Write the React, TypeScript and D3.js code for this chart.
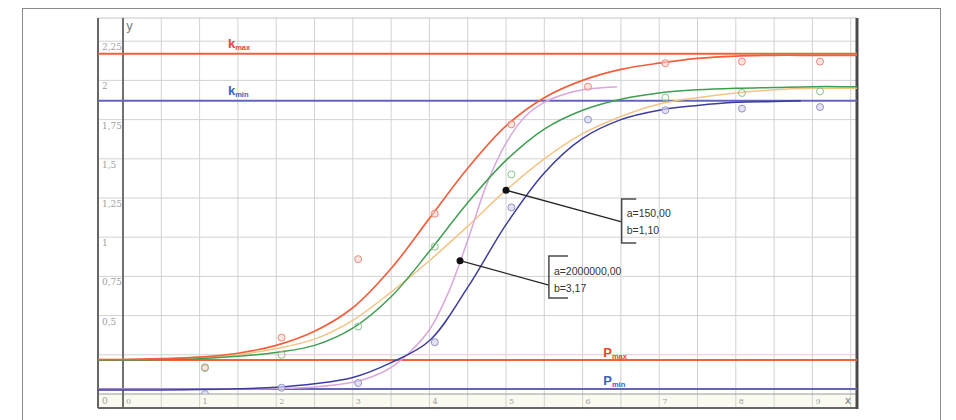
import React from 'react';
import * as d3 from 'd3';

// fitted curves
const curveX = [-0.35, 0, 0.5, 1, 1.5, 2, 2.5, 3, 3.5, 4, 4.5, 5, 5.5, 6, 6.5, 7, 7.5, 8, 8.5, 9, 9.5, 9.6];
const redCurve = [0.22, 0.22, 0.225, 0.235, 0.26, 0.31, 0.4, 0.55, 0.8, 1.12, 1.44, 1.71, 1.89, 2.0, 2.07, 2.11, 2.14, 2.155, 2.16, 2.16, 2.16, 2.16];
const greenCurve = [0.215, 0.215, 0.22, 0.225, 0.24, 0.265, 0.31, 0.42, 0.62, 0.91, 1.22, 1.49, 1.69, 1.81, 1.88, 1.92, 1.94, 1.95, 1.955, 1.96, 1.96, 1.96];
const tanCurve = [0.22, 0.22, 0.225, 0.235, 0.25, 0.29, 0.35, 0.47, 0.65, 0.85, 1.07, 1.3, 1.5, 1.66, 1.77, 1.85, 1.89, 1.92, 1.94, 1.95, 1.95, 1.95];

const pinkX = [-0.35, 0, 1, 2, 2.5, 3, 3.25, 3.5, 3.75, 4, 4.25, 4.5, 4.75, 5, 5.25, 5.5, 5.75, 6, 6.45];
const pinkCurve = [0.03, 0.03, 0.03, 0.035, 0.045, 0.075, 0.11, 0.17, 0.27, 0.41, 0.65, 0.98, 1.34, 1.6, 1.77, 1.86, 1.91, 1.94, 1.96];

const blueX = [-0.35, 0, 0.5, 1, 1.5, 2, 2.5, 3, 3.5, 4, 4.5, 5, 5.5, 6, 6.5, 7, 7.5, 8, 8.5, 8.85];
const blueCurve = [0.025, 0.025, 0.026, 0.028, 0.033, 0.043, 0.065, 0.105, 0.2, 0.34, 0.68, 1.08, 1.41, 1.63, 1.75, 1.81, 1.84, 1.86, 1.865, 1.87];

// measured points
const pointX = [1.07, 2.07, 3.07, 4.07, 5.07, 6.07, 7.08, 8.08, 9.1];
const redPoints = [0.17, 0.36, 0.86, 1.15, 1.72, 1.96, 2.11, 2.12, 2.12];
const greenPoints = [0.165, 0.25, 0.43, 0.94, 1.4, null, 1.89, 1.92, 1.93];
const bluePoints = [0.0, 0.04, 0.07, 0.33, 1.19, 1.75, 1.81, 1.82, 1.83];

// horizontal limit lines
const kMax = 2.17;
const kMin = 1.87;
const pMax = 0.217;
const pMin = 0.032;

const yTicks = [2.25, 2, 1.75, 1.5, 1.25, 1, 0.75, 0.5];
const yTickText = ['2,25', '2', '1,75', '1,5', '1,25', '1', '0,75', '0,5'];
const xTicks = [0, 1, 2, 3, 4, 5, 6, 7, 8, 9];

const annotations = [
  { ax: 5.0, ay: 1.3, bx: 6.51, by: 1.097, top: 1.244, bottom: 0.963, tick: 0.19, lines: ['a=150,00', 'b=1,10'], base: [1.129, 1.02] },
  { ax: 4.4, ay: 0.85, bx: 5.56, by: 0.695, top: 0.88, bottom: 0.612, tick: 0.25, lines: ['a=2000000,00', 'b=3,17'], base: [0.759, 0.65] },
];

const limitLabels = [
  { main: 'k', sub: 'max', x: 1.37, y: 2.207, color: '#e8452c' },
  { main: 'k', sub: 'min', x: 1.37, y: 1.907, color: '#3a62c0' },
  { main: 'P', sub: 'max', x: 6.27, y: 0.236, color: '#e8452c' },
  { main: 'P', sub: 'min', x: 6.27, y: 0.057, color: '#3a62c0' },
];

const RED = '#f0603e';
const BLUE_REF = '#6464bc';

const App = () => {
  const left = 98, right = 857, top = 18, bottom = 408;
  const x = d3.scaleLinear().domain([0, 9.5]).range([123, 850.7]);
  const y = d3.scaleLinear().domain([0, 2.25]).range([394, 41.2]);

  const mkLine = (xsArr: number[]) =>
    d3.line<number>()
      .x((d, i) => x(xsArr[i]))
      .y(d => y(d))
      .curve(d3.curveCatmullRom.alpha(0.5));

  const vGrid = d3.range(0.5, 9.51, 0.5);
  const hGrid = d3.range(0.25, 2.26, 0.25);

  return (
    <div style={{ position: 'absolute', left: 0, top: 0 }}>
      <svg width={956} height={420} style={{ display: 'block', background: '#fff' }}>
        <defs>
          <clipPath id="plot">
            <rect x={left} y={top} width={right - left} height={y(0) - top} />
          </clipPath>
        </defs>
        {/* page frame */}
        <rect x={22.5} y={8.5} width={918} height={430} fill="none" stroke="#8a8a8a" strokeWidth={1} />

        {/* label strip */}
        <rect x={left} y={y(0)} width={right - left} height={bottom - y(0)} fill="#fafaf1" />

        {/* grid */}
        {vGrid.map(v => (
          <line key={'v' + v} x1={x(v)} x2={x(v)} y1={top} y2={bottom} stroke="#d2d2d2" strokeWidth={1} />
        ))}
        {hGrid.map(v => (
          <line key={'h' + v} x1={left} x2={right} y1={y(v)} y2={y(v)} stroke="#d2d2d2" strokeWidth={1} />
        ))}

        {/* tick labels */}
        {yTicks.map((v, i) => (
          <text key={'yt' + v} x={102} y={y(v) + 9} fontSize={9} fill="#a0a0a0" fontFamily="DejaVu Serif">{yTickText[i]}</text>
        ))}
        <text x={102} y={y(0) + 10} fontSize={9} fill="#a0a0a0" fontFamily="DejaVu Serif">0</text>
        {xTicks.map(v => (
          <text key={'xt' + v} x={x(v) + 3} y={y(0) + 10} fontSize={8} fill="#a0a0a0" fontFamily="DejaVu Serif">{v}</text>
        ))}
        <text x={126} y={30} fontSize={12} fill="#777" fontFamily="DejaVu Sans">y</text>
        <text x={845} y={404} fontSize={10} fill="#777" fontFamily="DejaVu Sans">x</text>

        {/* frame + axes */}
        <line x1={left} x2={right} y1={top} y2={top} stroke="#c4c4c4" strokeWidth={1} />
        <line x1={left} x2={right} y1={y(0)} y2={y(0)} stroke="#9a9a9a" strokeWidth={1} />
        <line x1={x(0)} x2={x(0)} y1={top} y2={bottom} stroke="#707070" strokeWidth={2} />
        <line x1={left} x2={left} y1={top} y2={bottom} stroke="#666" strokeWidth={2} />
        <line x1={left} x2={right} y1={bottom} y2={bottom} stroke="#666" strokeWidth={2} />
        <line x1={right} x2={right} y1={top} y2={bottom + 1} stroke="#4a4a4a" strokeWidth={3} />

        <g clipPath="url(#plot)">
          {/* limit lines */}
          <line x1={left} x2={right} y1={y(kMax)} y2={y(kMax)} stroke={RED} strokeWidth={2} />
          <line x1={left} x2={right} y1={y(kMin)} y2={y(kMin)} stroke={BLUE_REF} strokeWidth={2} />
          <line x1={left} x2={right} y1={y(pMax)} y2={y(pMax)} stroke={RED} strokeWidth={2} />
          <line x1={left} x2={right} y1={y(pMin)} y2={y(pMin)} stroke={BLUE_REF} strokeWidth={2} />

          {/* fitted curves */}
          <path d={mkLine(curveX)(tanCurve) || ''} fill="none" stroke="#f5c383" strokeWidth={1.5} />
          <path d={mkLine(pinkX)(pinkCurve) || ''} fill="none" stroke="#d9a6dd" strokeWidth={1.5} />
          <path d={mkLine(curveX)(greenCurve) || ''} fill="none" stroke="#3f9e52" strokeWidth={1.5} />
          <path d={mkLine(blueX)(blueCurve) || ''} fill="none" stroke="#3d3d9e" strokeWidth={1.5} />
          <path d={mkLine(curveX)(redCurve) || ''} fill="none" stroke={RED} strokeWidth={1.7} />

          {/* points */}
          {redPoints.map((v, i) => (
            <circle key={'rp' + i} cx={x(pointX[i])} cy={y(v)} r={3.5} fill="#f7d3cc" fillOpacity={0.6} stroke="#e8897e" strokeWidth={1} />
          ))}
          {greenPoints.map((v, i) => v == null ? null : (
            <circle key={'gp' + i} cx={x(pointX[i])} cy={y(v)} r={3.5} fill="none" stroke="#86c08c" strokeWidth={1} />
          ))}
          {bluePoints.map((v, i) => (
            <circle key={'bp' + i} cx={x(pointX[i])} cy={y(v)} r={3.5} fill="#d6d6ec" fillOpacity={0.7} stroke="#9494c4" strokeWidth={1} />
          ))}
        </g>

        {/* limit labels */}
        {limitLabels.map((l, i) => (
          <text key={'ll' + i} x={x(l.x)} y={y(l.y)} fill={l.color} fontFamily="Liberation Sans" fontWeight="bold">
            <tspan fontSize={13}>{l.main}</tspan>
            <tspan fontSize={7.5} dy={2}>{l.sub}</tspan>
          </text>
        ))}

        {/* annotations */}
        {annotations.map((a, i) => (
          <g key={'an' + i}>
            <line x1={x(a.ax)} y1={y(a.ay)} x2={x(a.bx)} y2={y(a.by)} stroke="#262626" strokeWidth={1.3} />
            <circle cx={x(a.ax)} cy={y(a.ay)} r={3.5} fill="#111" />
            <path
              d={`M${x(a.bx + a.tick)},${y(a.top)}H${x(a.bx)}V${y(a.bottom)}H${x(a.bx + a.tick)}`}
              fill="none" stroke="#4a4a4a" strokeWidth={1.5} />
            {a.lines.map((t, j) => (
              <text key={j} x={x(a.bx) + 5} y={y(a.base[j])} fontSize={10.5} fill="#333" fontFamily="Liberation Sans">{t}</text>
            ))}
          </g>
        ))}
      </svg>
    </div>
  );
};

export default App;
